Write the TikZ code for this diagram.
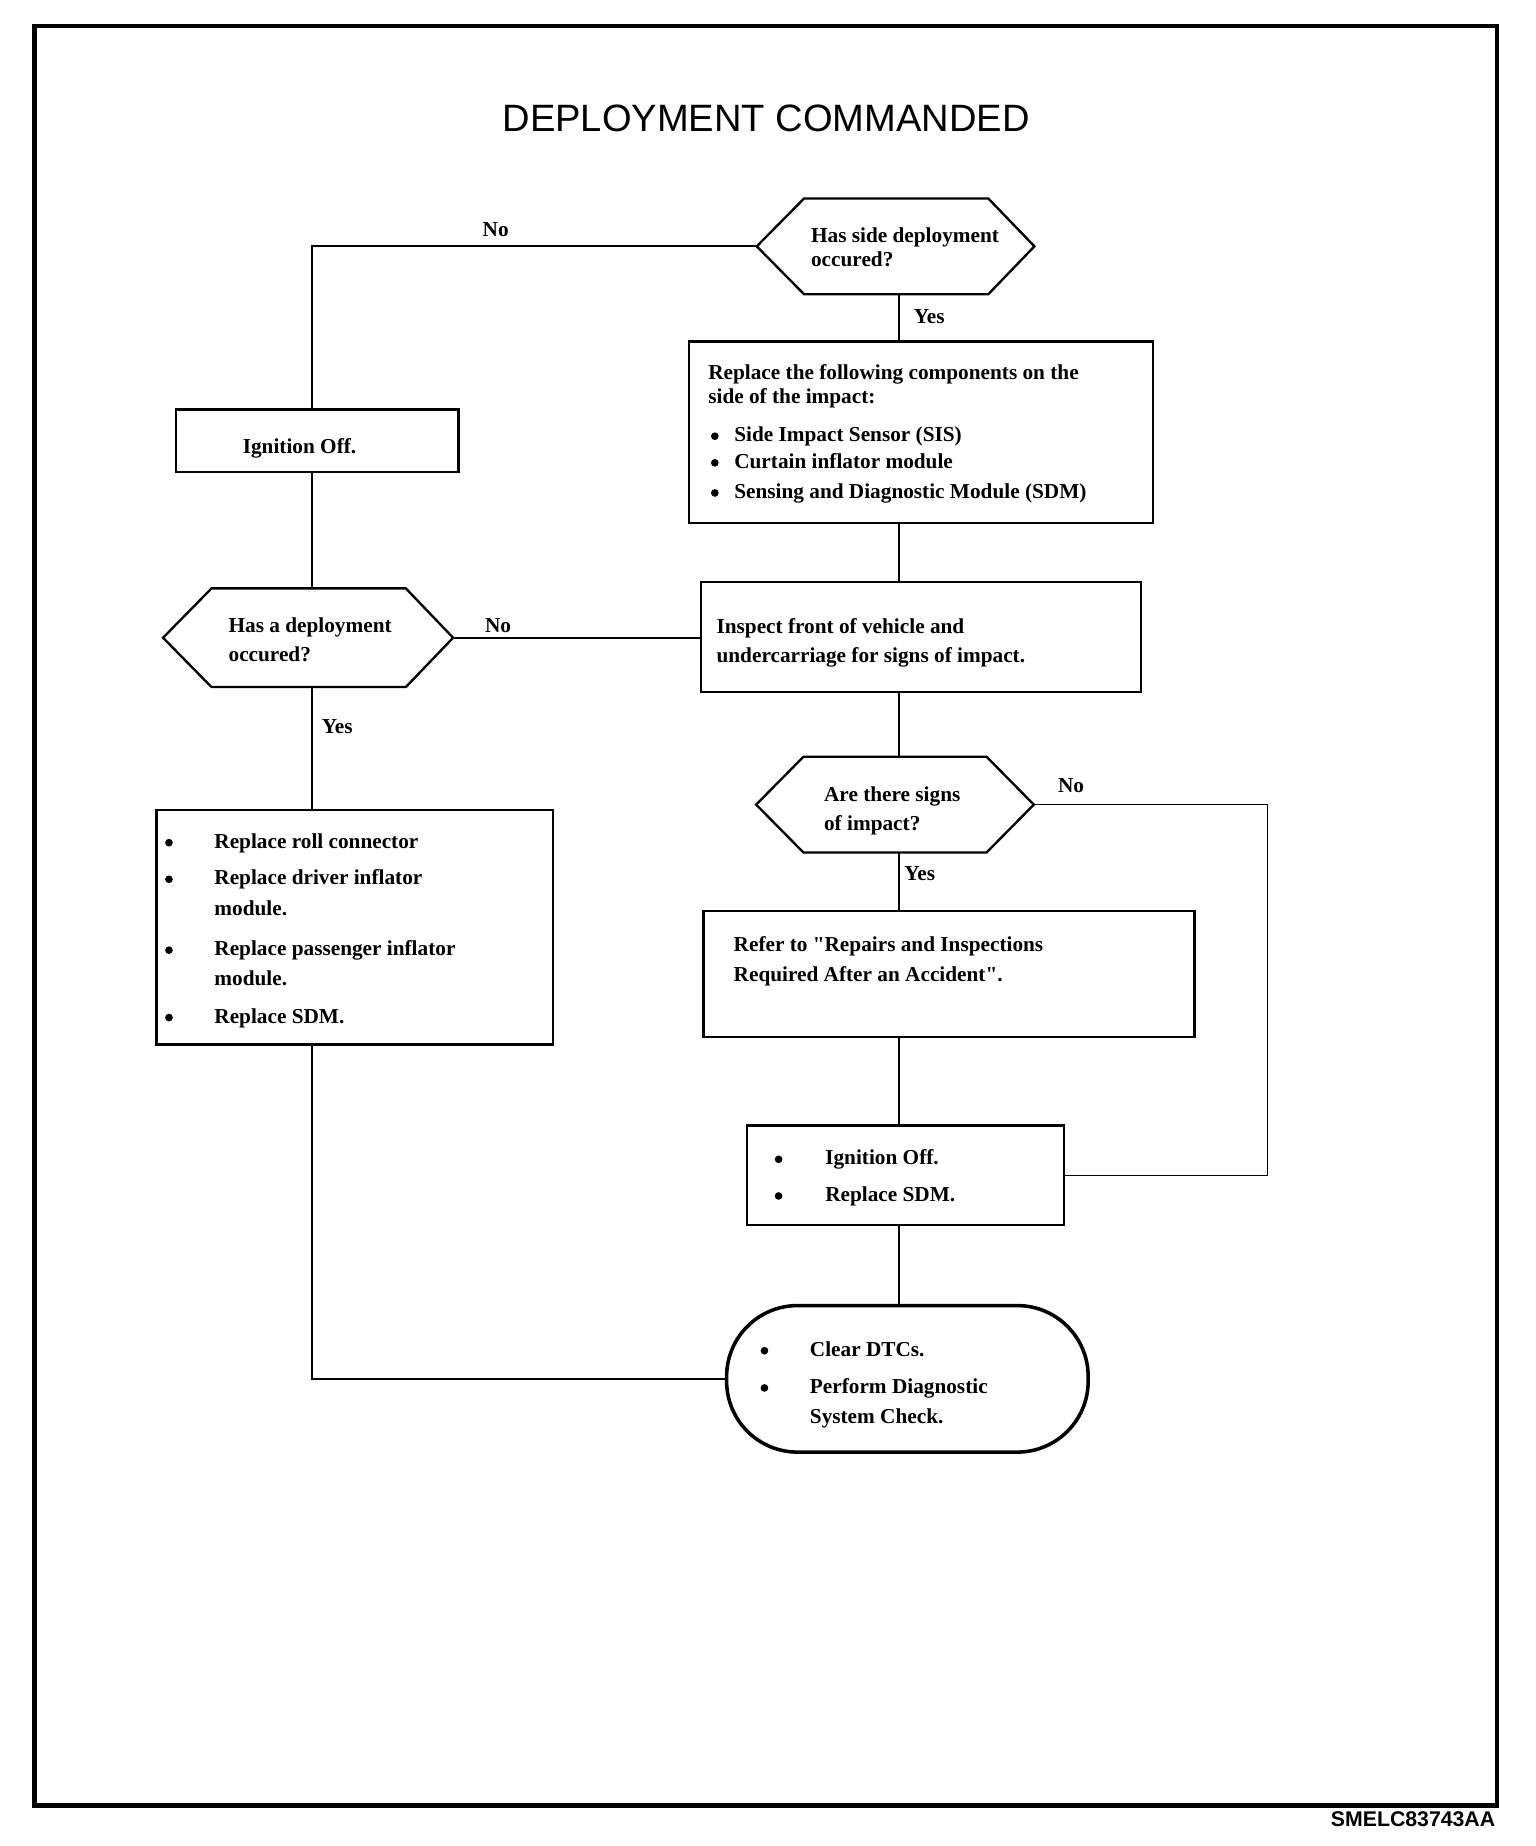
\documentclass[tikz,border=0pt]{standalone}
\usepackage{fontspec}
\setmainfont{Liberation Serif}[Ligatures=TeXOff]
\newfontfamily\sansf{Liberation Sans}
\usetikzlibrary{fit,calc}
\newcommand\hexshape[7]{%
  \node[anch, fit={(#2,#3)(#4,#5)}] (#1) {};
  \draw[hexline] (#1.west) -- ($(#1.north west)+(#6,0)$) -- ($(#1.north east)-(#7,0)$) -- (#1.east)
    -- ($(#1.south east)-(#7,0)$) -- ($(#1.south west)+(#6,0)$) -- cycle;}
\newcommand\tline[4]{\node[txt] (#1) at (#2,#3) {#4};}
\newcommand\bline[3]{\node[bul] (#1) at (#2,#3-4.8) {};}
\begin{document}
\begin{tikzpicture}[x=0.4pt,y=-0.4pt,
  txt/.style={anchor=base west, inner sep=0pt, font=\bfseries\fontsize{7.2}{8.6}\selectfont},
  bul/.style={circle, fill, draw=none, inner sep=0pt, minimum size=2.6pt},
  box/.style={draw, inner sep=0pt, line width=0.8pt},
  anch/.style={inner sep=0pt, draw=none},
  hexline/.style={line width=0.8pt, line join=miter},
  conn/.style={line width=0.6pt},
  thinconn/.style={line width=0.45pt},
  term/.style={draw, inner sep=0pt, line width=1.2pt, rounded corners=24pt}]
\useasboundingbox (0,0) rectangle (1300,1562.4);
% frame
\draw[line width=1.6pt] (29,22) rectangle (1267,1528);
% title and code
\node[anchor=base, inner sep=0pt, font=\sansf\fontsize{12.9}{14}\selectfont] (title) at (648.5,111) {DEPLOYMENT COMMANDED};
\node[anchor=base east, inner sep=0pt, font=\sansf\bfseries\fontsize{7.2}{8}\selectfont] (code) at (1266,1546) {SMELC83743AA};
% column coordinates
\coordinate (lx) at (264,0);
\coordinate (rx) at (761,0);
\coordinate (nx) at (1073,0);
% shapes
\hexshape{h1}{641}{168.5}{875}{248.5}{40}{39}
\hexshape{h2}{138.5}{498.5}{383}{581}{41}{40}
\hexshape{h3}{640.5}{641}{874.5}{721}{40}{40}
\node[box, fit={(583,289)(976,442.5)}] (b2) {};
\node[box, fit={(149,346.5)(388,399.5)}] (b1) {};
\node[box, fit={(593.5,492.5)(965.5,585.5)}] (b3) {};
\node[box, fit={(132.5,685.5)(468,884)}] (b4) {};
\node[box, fit={(595.5,771)(1011,877.5)}] (b5) {};
\node[box, fit={(632,952.5)(900.5,1037)}] (b6) {};
\node[term, fit={(615,1105)(921,1229)}] (tm) {};
% texts
\tline{h1a}{686}{205.5}{Has side deployment}
\tline{h1b}{686}{225.5}{occured?}
\tline{b2a}{599}{321.5}{Replace the following components on the}
\tline{b2b}{599}{341.5}{side of the impact:}
\bline{b2c}{605}{374}\tline{b2d}{621}{374}{Side Impact Sensor (SIS)}
\bline{b2e}{605}{396.5}\tline{b2f}{621}{396.5}{Curtain inflator module}
\bline{b2g}{605}{422}\tline{b2h}{621}{422}{Sensing and Diagnostic Module (SDM)}
\tline{b1a}{205}{384}{Ignition Off.}
\tline{b3a}{606}{536}{Inspect front of vehicle and}
\tline{b3b}{606}{561}{undercarriage for signs of impact.}
\tline{h2a}{193}{535}{Has a deployment}
\tline{h2b}{193}{560}{occured?}
\bline{b4a}{143}{718}\tline{b4b}{181}{718}{Replace roll connector}
\bline{b4c}{143}{749}\tline{b4d}{181}{749}{Replace driver inflator}
\tline{b4e}{181}{775}{module.}
\bline{b4f}{143}{809}\tline{b4g}{181}{809}{Replace passenger inflator}
\tline{b4h}{181}{834}{module.}
\bline{b4i}{143}{866}\tline{b4j}{181}{866}{Replace SDM.}
\tline{h3a}{697}{678}{Are there signs}
\tline{h3b}{697}{703}{of impact?}
\tline{b5a}{620.5}{805}{Refer to "Repairs and Inspections}
\tline{b5b}{620.5}{830.5}{Required After an Accident".}
\bline{b6a}{659}{986}\tline{b6b}{698}{986}{Ignition Off.}
\bline{b6c}{659}{1017}\tline{b6d}{698}{1017}{Replace SDM.}
\bline{tma}{647}{1148}\tline{tmb}{685}{1148}{Clear DTCs.}
\bline{tmc}{647}{1179.5}\tline{tmd}{685}{1179.5}{Perform Diagnostic}
\tline{tme}{685}{1205}{System Check.}
% labels
\tline{no1}{408}{200}{No}
\tline{yes1}{773}{274}{Yes}
\tline{no2}{410}{535.5}{No}
\tline{yes2}{272}{621}{Yes}
\tline{no3}{895}{670.5}{No}
\tline{yes3}{765}{745.5}{Yes}
% connectors
\draw[conn] (h1.west) -- (lx |- h1.west) -- (lx |- b1.north);
\draw[conn] (rx |- h1.south) -- (rx |- b2.north);
\draw[conn] (rx |- b2.south) -- (rx |- b3.north);
\draw[conn] (lx |- b1.south) -- (lx |- h2.north);
\draw[conn] (h2.east) -- (b3.west |- h2.east);
\draw[conn] (lx |- h2.south) -- (lx |- b4.north);
\draw[conn] (lx |- b4.south) -- (lx |- tm.west) -- (tm.west);
\draw[conn] (rx |- b3.south) -- (rx |- h3.north);
\draw[thinconn] (h3.east) -- (nx |- h3.east) -- (nx |- b6.east) -- (b6.east);
\draw[conn] (rx |- h3.south) -- (rx |- b5.north);
\draw[conn] (rx |- b5.south) -- (rx |- b6.north);
\draw[conn] (rx |- b6.south) -- (rx |- tm.north);
\end{tikzpicture}
\end{document}
